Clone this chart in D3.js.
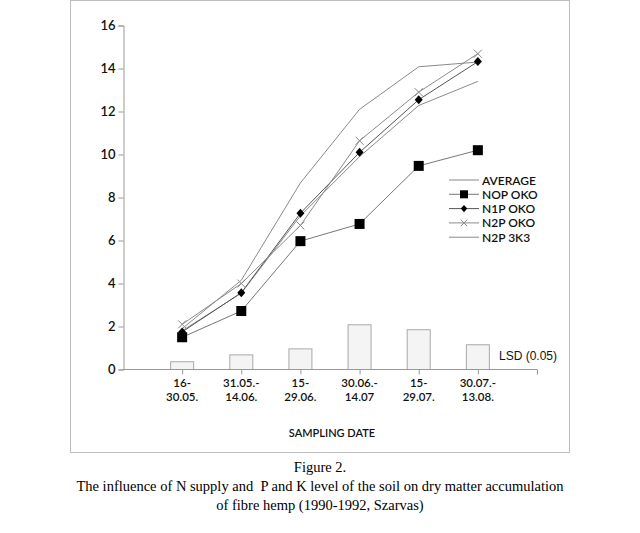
<!DOCTYPE html>
<html><head><meta charset="utf-8">
<script src="https://cdn.jsdelivr.net/npm/d3@7"></script>
<style>
body{margin:0;background:#fff;}
svg{display:block;}
</style></head>
<body>
<svg id="chart" width="640" height="533"></svg>
<script>
const categories = ["16-|30.05.", "31.05.-|14.06.", "15-|29.06.", "30.06.-|14.07", "15-|29.07.", "30.07.-|13.08."];
const yTicks = [0, 2, 4, 6, 8, 10, 12, 14, 16];
const average = [1.8, 3.55, 7.15, 9.9, 12.28, 13.4];
const nop = [1.5, 2.72, 5.97, 6.77, 9.47, 10.2];
const n1p = [1.75, 3.57, 7.27, 10.1, 12.55, 14.32];
const n2p = [2.1, 4.0, 6.7, 10.64, 12.9, 14.69];
const n2p3k3 = [1.9, 4.15, 8.68, 12.1, 14.08, 14.3];
const lsd = [0.36, 0.68, 0.96, 2.08, 1.85, 1.15];
const legendNames = ["AVERAGE", "NOP OKO", "N1P OKO", "N2P OKO", "N2P 3K3"];

const svg = d3.select("#chart");
const axisFont = "Lato, 'Open Sans', sans-serif";

// frame
svg.append("rect").attr("x", 70.5).attr("y", 0.5).attr("width", 499).attr("height", 452)
  .attr("fill", "none").attr("stroke", "#bdbdbd");

const x = d3.scaleLinear().domain([0, 7]).range([123, 537]);
const y = d3.scaleLinear().domain([0, 16]).range([369.5, 25.5]);
const xi = i => x(i + 1);

// bars (LSD)
const barW = 23;
svg.append("g").selectAll("rect").data(lsd).join("rect")
  .attr("x", (d, i) => xi(i) - barW / 2)
  .attr("y", d => y(d))
  .attr("width", barW)
  .attr("height", d => y(0) - y(d))
  .attr("fill", "#f4f4f4").attr("stroke", "#a8a8a8").attr("stroke-width", 1);

// y axis
const yAxis = svg.append("g").attr("transform", "translate(123.5,0)")
  .call(d3.axisLeft(y).tickValues(yTicks).tickSize(5).tickFormat(d3.format("d")));
yAxis.select(".domain").attr("stroke", "#999");
yAxis.selectAll(".tick line").attr("stroke", "#999");
yAxis.selectAll("text").attr("font-family", axisFont).attr("font-size", 13)
  .attr("font-weight", 600).attr("fill", "#111").attr("x", -8);

// x axis
const xAxis = svg.append("g").attr("transform", "translate(0,369.5)")
  .call(d3.axisBottom(x).tickValues([1, 2, 3, 4, 5, 6, 7]).tickSize(5).tickFormat(""));
xAxis.select(".domain").attr("stroke", "#999").attr("d", `M${x(0)},0H${x(7)}`);
xAxis.selectAll(".tick line").attr("stroke", "#999");
const xl = svg.append("g");
categories.forEach((c, i) => {
  const t = xl.append("text").attr("x", xi(i)).attr("y", 387)
    .attr("text-anchor", "middle").attr("font-family", axisFont).attr("font-size", 11.5)
    .attr("font-weight", 600).attr("fill", "#111");
  c.split("|").forEach((s, k) => t.append("tspan").attr("x", xi(i)).attr("dy", k ? 14 : 0).text(s));
});

// lines
const line = d3.line().x((d, i) => xi(i)).y(d => y(d));
const seriesList = [
  {v: average, color: "#8a8a8a", m: "none"},
  {v: nop, color: "#777", m: "square"},
  {v: n1p, color: "#555", m: "diamond"},
  {v: n2p, color: "#8a8a8a", m: "cross"},
  {v: n2p3k3, color: "#8a8a8a", m: "none"}
];
seriesList.forEach(s => {
  svg.append("path").datum(s.v).attr("d", line).attr("fill", "none")
    .attr("stroke", s.color).attr("stroke-width", 1);
});
function marker(g, type, cx, cy, sc) {
  const r = sc || 1;
  if (type === "square") {
    g.append("rect").attr("x", cx - 5 * r).attr("y", cy - 5 * r).attr("width", 10 * r).attr("height", 10 * r).attr("fill", "#000");
  } else if (type === "diamond") {
    g.append("path").attr("d", `M${cx},${cy - 4.5 * r}L${cx + 4 * r},${cy}L${cx},${cy + 4.5 * r}L${cx - 4 * r},${cy}Z`).attr("fill", "#000");
  } else if (type === "cross") {
    const a = 4 * r;
    g.append("path").attr("d", `M${cx - a},${cy - a}L${cx + a},${cy + a}M${cx - a},${cy + a}L${cx + a},${cy - a}`)
      .attr("stroke", "#888").attr("stroke-width", 1).attr("fill", "none");
  }
}
const mg = svg.append("g");
seriesList.forEach(s => {
  if (s.m === "none") return;
  s.v.forEach((d, i) => marker(mg, s.m, xi(i), y(d)));
});

// legend
const lg = svg.append("g");
legendNames.forEach((n, k) => {
  const ly = 180 + k * 14.3;
  lg.append("line").attr("x1", 449).attr("x2", 479).attr("y1", ly).attr("y2", ly)
    .attr("stroke", seriesList[k].color).attr("stroke-width", 1);
  marker(lg, seriesList[k].m, 464, ly, 0.8);
  lg.append("text").attr("x", 482).attr("y", ly + 4.5).attr("font-family", axisFont)
    .attr("font-size", 12).attr("font-weight", 600).attr("fill", "#111").text(n);
});

// LSD label
svg.append("text").attr("x", 499).attr("y", 360).attr("font-family", "'Liberation Sans', Arial, sans-serif")
  .attr("font-size", 12).attr("fill", "#111").text("LSD (0.05)");

// x title
svg.append("text").attr("x", 332).attr("y", 437).attr("text-anchor", "middle")
  .attr("font-family", axisFont).attr("font-size", 11).attr("font-weight", 600).attr("fill", "#111").text("SAMPLING DATE");

// caption
const cap = ["Figure 2.", "The influence of N supply and  P and K level of the soil on dry matter accumulation", "of fibre hemp (1990-1992, Szarvas)"];
cap.forEach((c, k) => {
  svg.append("text").attr("x", 320).attr("y", 472 + k * 19).attr("text-anchor", "middle")
    .attr("font-family", "'Liberation Serif', 'Times New Roman', serif").attr("font-size", 14.5)
    .attr("fill", "#000").attr("xml:space", "preserve").style("white-space", "pre").text(c);
});
</script>
</body></html>
